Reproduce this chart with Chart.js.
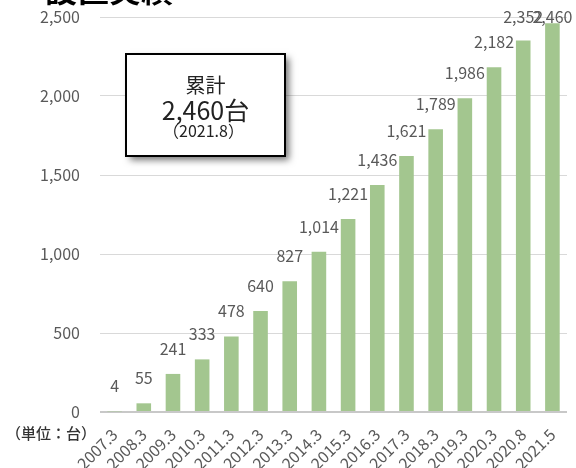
<!DOCTYPE html>
<html>
<head>
<meta charset="utf-8">
<script src="https://cdn.jsdelivr.net/npm/chart.js@4.4.1/dist/chart.umd.min.js"></script>
<style>
  html, body { margin: 0; padding: 0; background: #ffffff; }
  #wrap { width: 576px; height: 468px; position: relative; }
</style>
</head>
<body>
<div id="wrap"><canvas id="installChart" width="576" height="468"></canvas></div>
<script>
// 設置実績 (cumulative installations)
const periods = ['2007.3', '2008.3', '2009.3', '2010.3', '2011.3', '2012.3', '2013.3', '2014.3',
                 '2015.3', '2016.3', '2017.3', '2018.3', '2019.3', '2020.3', '2020.8', '2021.5'];
const installs = [4, 55, 241, 333, 478, 640, 827, 1014, 1221, 1436, 1621, 1789, 1986, 2182, 2352, 2460];
const yTicks = [0, 500, 1000, 1500, 2000, 2500];

const TITLE = '設置実績';
const UNIT_LABEL = '（単位：台）';
const totalLines = ['累計', '2,460台', '（2021.8）'];

const FONT = '"Noto Sans CJK JP", "Noto Sans", sans-serif';
const TEXT_GRAY = '#595959';
const BAR_GREEN = '#a3c68f';

const fmt = v => v.toLocaleString('en-US');

// value labels above each bar, kept inside the canvas near the top
const barLabels = {
    id: 'barLabels',
    afterDatasetsDraw(chart) {
        const ctx = chart.ctx;
        const meta = chart.getDatasetMeta(0);
        ctx.save();
        ctx.font = '16px ' + FONT;
        ctx.fillStyle = TEXT_GRAY;
        ctx.textAlign = 'center';
        ctx.textBaseline = 'alphabetic';
        meta.data.forEach((bar, i) => {
            const y = Math.max(bar.y - 19, 23);
            ctx.fillText(fmt(installs[i]), bar.x, y);
        });
        ctx.restore();
    }
};

// title, unit note and the cumulative total box
const extras = {
    id: 'extras',
    afterDraw(chart) {
        const ctx = chart.ctx;
        ctx.save();

        ctx.font = 'bold 32px ' + FONT;
        ctx.fillStyle = '#000000';
        ctx.textAlign = 'left';
        ctx.textBaseline = 'bottom';
        ctx.fillText(TITLE, 45, 6);

        ctx.font = '500 15px ' + FONT;
        ctx.fillStyle = '#333333';
        ctx.textBaseline = 'middle';
        ctx.fillText(UNIT_LABEL, 6, 433);

        const bx = 126, by = 54, bw = 159, bh = 102;
        ctx.save();
        ctx.shadowColor = 'rgba(0,0,0,0.55)';
        ctx.shadowBlur = 7;
        ctx.shadowOffsetX = 4;
        ctx.shadowOffsetY = 4;
        ctx.fillStyle = '#ffffff';
        ctx.fillRect(bx, by, bw, bh);
        ctx.restore();
        ctx.lineWidth = 2;
        ctx.strokeStyle = '#000000';
        ctx.strokeRect(bx, by, bw, bh);

        const cx = bx + bw / 2;
        ctx.fillStyle = '#222222';
        ctx.textAlign = 'center';
        ctx.font = '20px ' + FONT;
        ctx.fillText(totalLines[0], cx, 85);
        ctx.font = '25px ' + FONT;
        ctx.fillText(totalLines[1], cx, 110);
        ctx.font = '16px ' + FONT;
        ctx.fillText(totalLines[2], cx - 2, 131);

        ctx.restore();
    }
};

const ctx = document.getElementById('installChart').getContext('2d');
const installChart = new Chart(ctx, {
    type: 'bar',
    data: {
        labels: periods,
        datasets: [{
            data: installs,
            backgroundColor: BAR_GREEN,
            barPercentage: 0.5,
            categoryPercentage: 1.0
        }]
    },
    options: {
        responsive: false,
        animation: false,
        layout: { autoPadding: false, padding: { top: 17, right: 9, left: 0, bottom: 0 } },
        plugins: { legend: { display: false }, tooltip: { enabled: false } },
        scales: {
            x: {
                grid: { display: false },
                border: { display: false },
                ticks: {
                    color: TEXT_GRAY,
                    font: { family: FONT, size: 16 },
                    minRotation: 45, maxRotation: 45,
                    autoSkip: false, padding: 5
                },
                afterFit(scale) { scale.height = 56; scale.paddingTop = 0; }
            },
            y: {
                min: 0, max: 2500,
                afterBuildTicks(scale) { scale.ticks = yTicks.map(v => ({ value: v })); },
                grid: {
                    drawTicks: false,
                    color: c => c.tick && c.tick.value === 0 ? '#c8c8c8' : '#d9d9d9',
                    lineWidth: c => c.tick && c.tick.value === 0 ? 2 : 1
                },
                border: { display: false },
                ticks: {
                    color: TEXT_GRAY,
                    font: { family: FONT, size: 16 },
                    padding: 20,
                    callback: v => fmt(v)
                },
                afterFit(scale) { scale.width = 100; scale.paddingTop = 0; }
            }
        }
    },
    plugins: [barLabels, extras]
});
</script>
</body>
</html>
